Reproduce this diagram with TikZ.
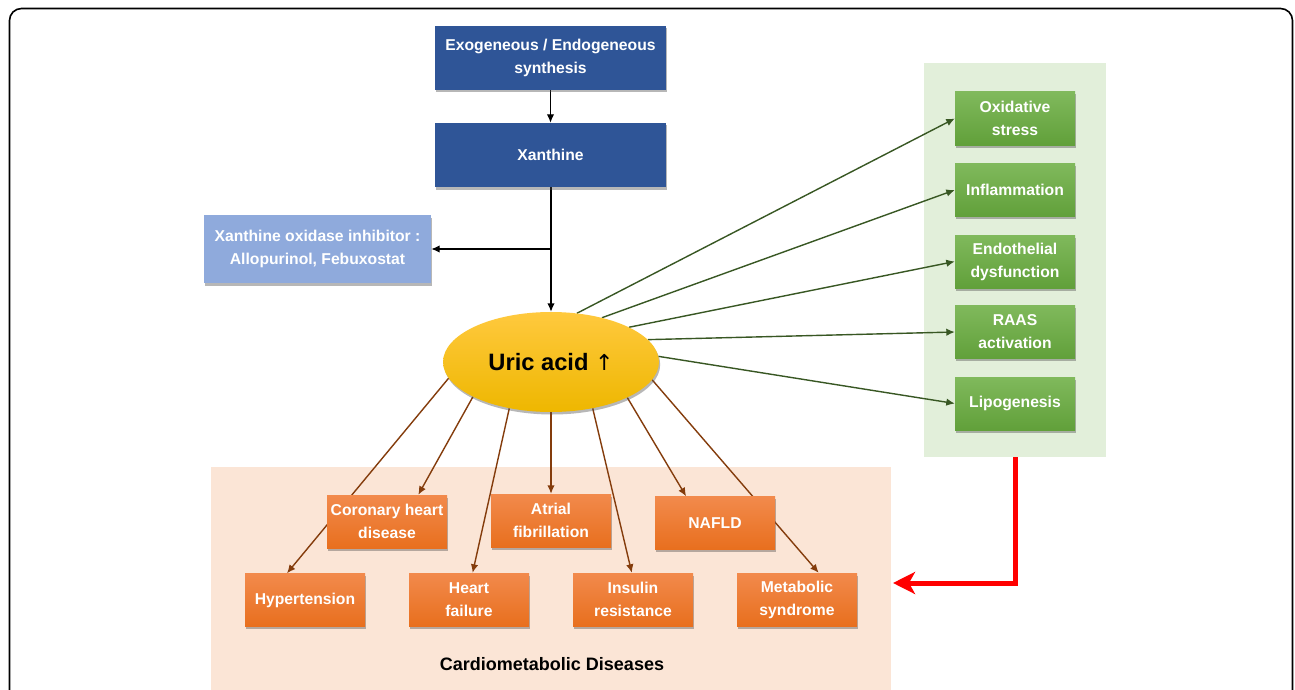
\documentclass[tikz,border=0pt]{standalone}
\usepackage{fontspec}
\setmainfont{Liberation Sans}
\newfontfamily\dejavu{DejaVu Sans}
\usetikzlibrary{shadows,arrows.meta,calc,shapes.geometric}
\definecolor{blueD}{HTML}{2F5597}
\definecolor{blueL}{HTML}{8FAADC}
\definecolor{greenP}{HTML}{E2EFDA}
\definecolor{orangeP}{HTML}{FBE5D6}
\definecolor{orT}{HTML}{F28A4C}
\definecolor{orB}{HTML}{E86F1E}
\definecolor{grT}{HTML}{80B95C}
\definecolor{grB}{HTML}{61A03A}
\definecolor{goldT}{HTML}{FFC93E}
\definecolor{goldB}{HTML}{EEB700}
\definecolor{brownL}{HTML}{843C0C}
\definecolor{greenL}{HTML}{385723}
\pgfdeclarelayer{bg}
\pgfdeclarelayer{lines}
\pgfsetlayers{bg,lines,main}
\tikzset{
  boxtext/.style={align=center, text=white, font=\bfseries\fontsize{15.7}{23}\selectfont, inner sep=0pt},
  shad/.style={drop shadow={shadow xshift=1.2pt, shadow yshift=-2.5pt, opacity=0.4, fill=black!70}},
  bluebox/.style={boxtext, shad, fill=blueD, minimum width=231, minimum height=64},
  lbluebox/.style={boxtext, shad, fill=blueL, minimum width=227, minimum height=68},
  orbox/.style={boxtext, shad, top color=orT, bottom color=orB, minimum width=120, minimum height=53},
  grbox/.style={boxtext, shad, top color=grT, bottom color=grB, minimum width=120, minimum height=53},
  blk/.style={draw=black, line width=1.4, -{Latex[length=8.5pt,width=7.5pt]}},
  brn/.style={draw=brownL, line width=1.4, -{Latex[length=8.5pt,width=7.5pt]}},
  grn/.style={draw=greenL, line width=1.4, -{Latex[length=8.5pt,width=7.5pt]}},
}
\begin{document}
\begin{tikzpicture}[x=1pt,y=-1pt]
\useasboundingbox (0,0) rectangle (1295,690);
\clip (0,0) rectangle (1295,690);
% panels
\begin{pgfonlayer}{bg}
\fill[white] (0,0) rectangle (1295,690);
\node (gp) [fill=greenP, minimum width=182, minimum height=394, inner sep=0] at (1015,260) {};
\node (op) [fill=orangeP, minimum width=680, minimum height=240, inner sep=0] at (551,587) {};
\end{pgfonlayer}
% frame
\draw[line width=1.6, rounded corners=12] (9.5,720) -- (9.5,8.5) -- (1292.5,8.5) -- (1292.5,720);
% nodes
\node (exo) [bluebox] at (550.5,58) {Exogeneous / Endogeneous\\synthesis};
\node (xan) [bluebox] at (550.5,155) {Xanthine};
\node (xoi) [lbluebox] at (317.5,249) {Xanthine oxidase inhibitor :\\Allopurinol, Febuxostat};
\node (uric) [ellipse, top color=goldT, bottom color=goldB, shad, minimum width=216, minimum height=100, inner sep=0,
  font=\bfseries\fontsize{23.7}{26}\selectfont] at (551,362) {Uric acid {\dejavu\mdseries\fontsize{22}{26}\selectfont ↑}};
\node (ox) [grbox] at (1015,118.5) {Oxidative\\stress};
\node (inf) [grbox] at (1015,190) {Inflammation};
\node (endo) [grbox] at (1015,261.5) {Endothelial\\dysfunction};
\node (raas) [grbox] at (1015,332) {RAAS\\activation};
\node (lipo) [grbox] at (1015,403.5) {Lipogenesis};
\node (chd) [orbox] at (387,521.5) {Coronary heart\\disease};
\node (af) [orbox] at (551,520.5) {Atrial\\fibrillation};
\node (nafld) [orbox] at (715,523) {NAFLD};
\node (hyp) [orbox] at (305,600) {Hypertension};
\node (hf) [orbox] at (469,599.5) {Heart\\failure};
\node (ir) [orbox] at (633,599.5) {Insulin\\resistance};
\node (ms) [orbox] at (797,599.5) {Metabolic\\syndrome};
\node (title) [font=\bfseries\fontsize{18}{20}\selectfont, inner sep=0] at (552,664) {Cardiometabolic Diseases};
% connectors
\begin{pgfonlayer}{lines}
\draw[blk] (exo.south) -- (xan.north);
\coordinate (br) at (551,249);
\draw[blk] (xan.south -| uric.north) -- (uric.north);
\draw[blk] (br) -- (xoi.east);
\draw[grn] (uric.62) -- (ox.west);
\draw[grn] (uric.41) -- (inf.west);
\draw[grn] (uric.24) -- (endo.west);
\draw[grn] (uric.13) -- (raas.west);
\draw[grn] (uric.3) -- (lipo.west);
\draw[brn] (uric.189) -- ($(hyp.north west)!0.35!(hyp.north east)$);
\draw[brn] (uric.204) -- ($(chd.north west)!0.76!(chd.north east)$);
\draw[brn] (uric.228) -- ($(hf.north west)!0.53!(hf.north east)$);
\draw[brn] (uric.270) -- (af.north -| uric.270);
\draw[brn] (uric.312) -- ($(ir.north west)!0.49!(ir.north east)$);
\draw[brn] (uric.335) -- ($(nafld.north west)!0.26!(nafld.north east)$);
\draw[brn] (uric.350) -- ($(ms.north west)!0.68!(ms.north east)$);
\coordinate (redend) at (893,583);
\draw[red, line width=5, -{Stealth[length=22pt,width=22pt,inset=6pt]}] (gp.south) |- (redend);
\end{pgfonlayer}
\end{tikzpicture}
\end{document}
